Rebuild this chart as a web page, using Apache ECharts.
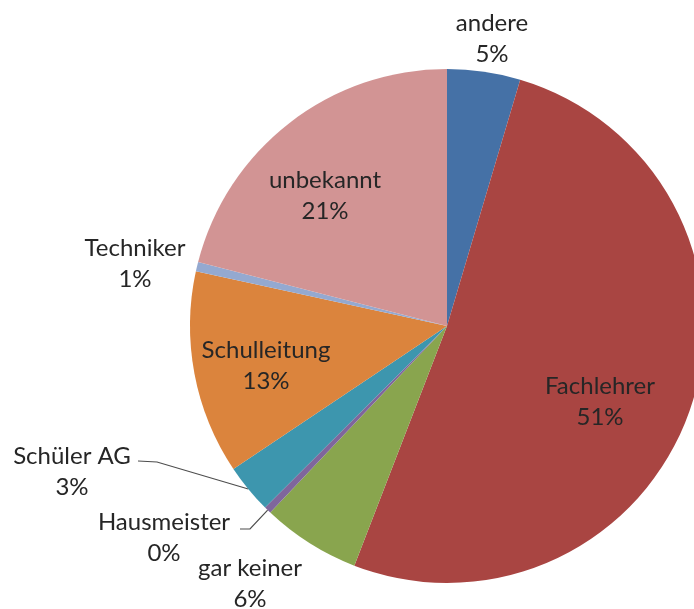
<!DOCTYPE html>
<html>
<head>
<meta charset="utf-8">
<script src="https://cdn.jsdelivr.net/npm/echarts@6/dist/echarts.min.js"></script>
<style>
html,body{margin:0;padding:0;background:#fff;}
#chart{width:694px;height:609px;}
</style>
</head>
<body>
<div id="chart"></div>
<script>
// Data
const categories = ['andere', 'Fachlehrer', 'gar keiner', 'Hausmeister', 'Schüler AG', 'Schulleitung', 'Techniker', 'unbekannt'];
const values = [4.6, 51.3, 6.2, 0.45, 3.1, 12.8, 0.6, 21.0];
const colors = ['#4571A6', '#A94542', '#89A54E', '#7F669C', '#3D96AE', '#DB843D', '#94A9D0', '#D29494'];

// Label placement (offsets from pie center in px) and leader lines
const labelOffsets = [[45, -287], [153, 76], [-197, 258], [-283, 212], [-375, 146], [-181, 40], [-312, -62], [-122, -130]];
const leaderBends = { 3: [[86, -9], [76, -9]], 4: [[85, -10], [66, -11]] };

const CX = 447, CY = 326, R = 257;
const total = values.reduce((a, b) => a + b, 0);

const chart = echarts.init(document.getElementById('chart'), null, { renderer: 'canvas' });

const data = categories.map((name, i) => ({
  name: name,
  value: values[i],
  itemStyle: { color: colors[i] },
  labelLine: { show: !!leaderBends[i], lineStyle: { color: '#4d4d4d', width: 1.2 } }
}));

chart.setOption({
  backgroundColor: '#ffffff',
  animation: false,
  series: [{
    type: 'pie',
    center: [CX, CY],
    radius: [0, R],
    startAngle: 90,
    clockwise: true,
    avoidLabelOverlap: false,
    silent: true,
    itemStyle: { borderWidth: 0 },
    emphasis: { disabled: true },
    data: data,
    label: {
      show: true,
      position: 'outside',
      fontFamily: 'Lato',
      fontSize: 24,
      lineHeight: 31,
      color: '#262626',
      formatter: function (p) {
        return p.name + '\n' + Math.round(p.value / total * 100) + '%';
      }
    },
    labelLine: { show: false, length: 10, length2: 10, smooth: false },
    labelLayout: function (p) {
      const off = labelOffsets[p.dataIndex];
      const x = CX + off[0], y = CY + off[1];
      const res = { x: x, y: y, align: 'center', verticalAlign: 'middle' };
      const bends = leaderBends[p.dataIndex];
      if (bends && p.labelLinePoints) {
        res.labelLinePoints = [
          p.labelLinePoints[0],
          [x + bends[0][0], y + bends[0][1]],
          [x + bends[1][0], y + bends[1][1]]
        ];
      }
      return res;
    }
  }]
});
</script>
</body>
</html>
